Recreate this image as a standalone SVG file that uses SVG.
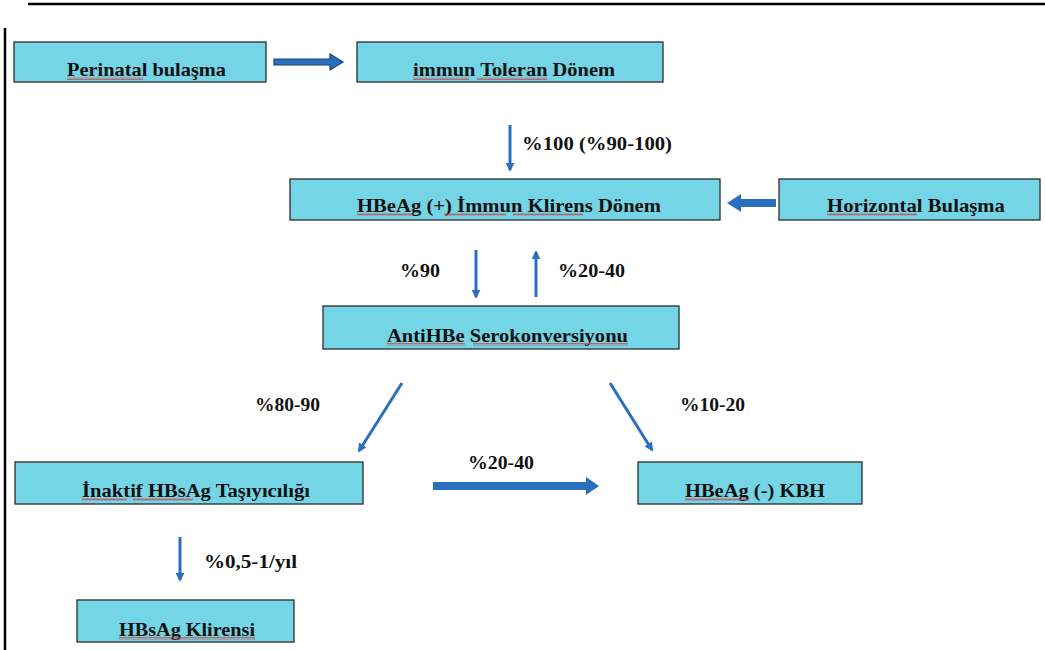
<svg xmlns="http://www.w3.org/2000/svg" width="1045" height="650" viewBox="0 0 1045 650">
<style>
.box{fill:#74d5e6;stroke:#2b2b2b;stroke-width:1.3}
.t{font-family:"Liberation Serif","DejaVu Serif",serif;font-weight:bold;font-size:19px;fill:#111}
.thin{stroke:#2a6fbd;stroke-width:3;fill:none}
.thick{fill:#2a6fbd}
.sq{fill:url(#squig)}
</style>
<defs>
<marker id="ah" viewBox="0 0 10 10" refX="8" refY="5" markerWidth="3" markerHeight="3" orient="auto" markerUnits="strokeWidth">
<path d="M0,0 L10,5 L0,10 z" fill="#2a6fbd"/>
</marker>
<pattern id="squig" width="4" height="3" patternUnits="userSpaceOnUse">
<path d="M0,2.5 L1,0.5 L2,2.5 L3,0.5 L4,2.5" fill="none" stroke="#d23a3a" stroke-width="0.7"/>
</pattern>
</defs>
<rect width="1045" height="650" fill="#ffffff"/>
<g id="frame" stroke="#000" stroke-width="2.5">
<line x1="28" y1="4" x2="1045" y2="4"/>
<line x1="5" y1="28" x2="5" y2="650"/>
</g>
<g id="connectors">
<path d="M274,59 H330 V54 L343,62 L330,70 V65 H274 z" fill="#2a6fbd" stroke="#1c3f7a" stroke-width="1.2"/>
<line class="thin" x1="510" y1="125" x2="510" y2="170" marker-end="url(#ah)"/>
<path class="thick" d="M776,199 H741 V194 L727,203 L741,212 V207 H776 z"/>
<line class="thin" x1="476" y1="250" x2="476" y2="297" marker-end="url(#ah)"/>
<line class="thin" x1="536" y1="297" x2="536" y2="252" marker-end="url(#ah)"/>
<line class="thin" x1="402" y1="383" x2="359" y2="451" marker-end="url(#ah)"/>
<line class="thin" x1="610" y1="383" x2="652" y2="450" marker-end="url(#ah)"/>
<path class="thick" d="M433,482 H586 V477 L599,486 L586,495 V490 H433 z"/>
<line class="thin" x1="180" y1="537" x2="180" y2="580" marker-end="url(#ah)"/>
</g>
<g id="labels">
<text class="t" x="522" y="150" textLength="150" lengthAdjust="spacingAndGlyphs">%100 (%90-100)</text>
<text class="t" x="400" y="277" textLength="40" lengthAdjust="spacingAndGlyphs">%90</text>
<text class="t" x="558" y="277" textLength="67" lengthAdjust="spacingAndGlyphs">%20-40</text>
<text class="t" x="255" y="411" textLength="65" lengthAdjust="spacingAndGlyphs">%80-90</text>
<text class="t" x="680" y="411" textLength="65" lengthAdjust="spacingAndGlyphs">%10-20</text>
<text class="t" x="468" y="469" textLength="66" lengthAdjust="spacingAndGlyphs">%20-40</text>
<text class="t" x="204" y="568" textLength="93" lengthAdjust="spacingAndGlyphs">%0,5-1/yıl</text>
</g>
<g id="n-perinatal">
<rect class="box" x="14" y="42" width="252" height="40"/>
<text class="t" x="67" y="76" textLength="159" lengthAdjust="spacingAndGlyphs">Perinatal bulaşma</text>
<rect class="sq" x="67" y="77" width="76" height="3"/>
</g>
<g id="n-toleran">
<rect class="box" x="357" y="42" width="306" height="40"/>
<text class="t" x="413" y="76" textLength="202" lengthAdjust="spacingAndGlyphs">immun Toleran Dönem</text>
<rect class="sq" x="413" y="77" width="56" height="3"/>
<rect class="sq" x="477" y="77" width="70" height="3"/>
</g>
<g id="n-klirens-donem">
<rect class="box" x="290" y="179" width="430" height="41"/>
<text class="t" x="357" y="212" textLength="304" lengthAdjust="spacingAndGlyphs">HBeAg (+) İmmun Klirens Dönem</text>
<rect class="sq" x="357" y="213" width="56" height="3"/>
<rect class="sq" x="444" y="213" width="62" height="3"/>
<rect class="sq" x="513" y="213" width="70" height="3"/>
</g>
<g id="n-horizontal">
<rect class="box" x="779" y="179" width="261" height="41"/>
<text class="t" x="827" y="212" textLength="178" lengthAdjust="spacingAndGlyphs">Horizontal Bulaşma</text>
<rect class="sq" x="827" y="213" width="90" height="3"/>
</g>
<g id="n-antihbe">
<rect class="box" x="323" y="306" width="356" height="43"/>
<text class="t" x="387" y="342" textLength="241" lengthAdjust="spacingAndGlyphs">AntiHBe Serokonversiyonu</text>
<rect class="sq" x="387" y="343" width="78" height="3"/>
<rect class="sq" x="473" y="343" width="155" height="3"/>
</g>
<g id="n-inaktif">
<rect class="box" x="15" y="462" width="348" height="42"/>
<text class="t" x="82" y="497" textLength="228" lengthAdjust="spacingAndGlyphs">İnaktif HBsAg Taşıyıcılığı</text>
<rect class="sq" x="82" y="498" width="45" height="3"/>
<rect class="sq" x="133" y="498" width="60" height="3"/>
</g>
<g id="n-kbh">
<rect class="box" x="638" y="462" width="224" height="42"/>
<text class="t" x="685" y="497" textLength="140" lengthAdjust="spacingAndGlyphs">HBeAg (-) KBH</text>
<rect class="sq" x="685" y="498" width="64" height="3"/>
</g>
<g id="n-hbsag-klirensi">
<rect class="box" x="77" y="600" width="217" height="42"/>
<text class="t" x="119" y="636" textLength="136" lengthAdjust="spacingAndGlyphs">HBsAg Klirensi</text>
<rect class="sq" x="119" y="637" width="136" height="3"/>
</g>
</svg>
